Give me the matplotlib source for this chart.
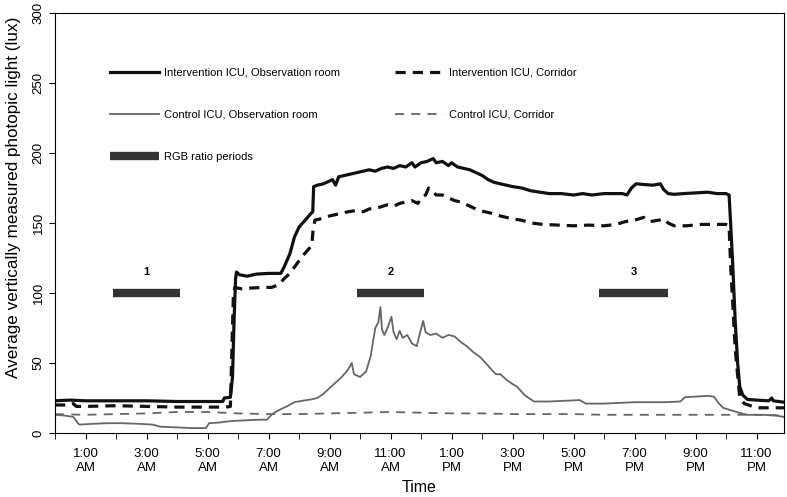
import matplotlib
matplotlib.use("Agg")
import matplotlib.pyplot as plt

plt.rcParams['font.family'] = ['Liberation Sans', 'DejaVu Sans']

# hours after midnight, measured lux
int_obs_t = [0.0, 0.5, 1.0, 2.0, 3.0, 4.0, 5.0, 5.5, 5.55, 5.75, 5.82, 5.87, 5.92, 5.95,
             6.05, 6.3, 6.6, 7.0, 7.4, 7.5, 7.7, 7.85, 8.0, 8.2, 8.4, 8.45, 8.48, 8.6,
             8.8, 9.0, 9.1, 9.2, 9.3, 9.5, 9.7, 9.9, 10.1, 10.3, 10.5, 10.7, 10.9, 11.1,
             11.3, 11.5, 11.7, 11.8, 12.0, 12.2, 12.4, 12.5, 12.7, 12.9, 13.0, 13.2, 13.4,
             13.6, 13.8, 14.0, 14.2, 14.4, 14.6, 14.8, 15.0, 15.3, 15.6, 15.9, 16.2, 16.6,
             17.0, 17.3, 17.6, 18.0, 18.3, 18.6, 18.75, 18.9, 19.05, 19.3, 19.6, 19.85,
             19.95, 20.1, 20.3, 20.6, 21.0, 21.4, 21.7, 22.0, 22.1, 22.15, 22.22, 22.3,
             22.38, 22.45, 22.55, 22.7, 23.0, 23.4, 23.5, 23.55, 23.9]
int_obs_v = [23, 23.5, 23, 23, 23, 22.5, 22.5, 22.5, 25, 25.5, 40, 80, 110, 115,
             113, 112, 113.5, 114, 114, 118, 128, 140, 147, 152, 157, 158, 176, 177,
             178, 180, 181, 177, 183, 184, 185, 186, 187, 188, 187, 189, 190, 189,
             191, 190, 193, 190, 193, 194, 196, 193, 194, 191, 193, 190, 189,
             188, 186, 184, 181, 179, 178, 177, 176, 175, 173, 172, 171, 171,
             170, 171, 170, 171, 171, 171, 170, 175, 178, 177.5, 177, 178,
             174, 171, 170.5, 171, 171.5, 172, 171, 171, 170, 150, 120, 80,
             50, 33, 27, 24, 23.5, 23, 25, 23, 22]

int_cor_t = [0.0, 0.5, 0.6, 0.7, 1.0, 2.0, 3.0, 4.0, 5.0, 5.6, 5.75, 5.8, 5.85, 5.9,
             6.1, 6.4, 6.8, 7.1, 7.35, 7.5, 7.7, 7.9, 8.1, 8.3, 8.42, 8.46, 8.52, 8.7,
             9.0, 9.3, 9.6, 9.9, 10.1, 10.3, 10.6, 10.9, 11.1, 11.3, 11.5, 11.7, 11.9,
             12.0, 12.15, 12.25, 12.35, 12.5, 12.7, 12.9, 13.1, 13.3, 13.5, 13.7, 13.9,
             14.1, 14.3, 14.6, 15.0, 15.3, 15.6, 16.0, 16.5, 17.0, 17.5, 18.0, 18.4,
             18.7, 19.0, 19.3, 19.5, 19.8, 19.95, 20.1, 20.3, 20.7, 21.2, 21.6, 22.0,
             22.1, 22.15, 22.3, 22.45, 22.6, 23.0, 23.9]
int_cor_v = [20, 20, 21, 19, 19, 19.5, 19, 18.5, 18.5, 18.5, 19, 60, 100, 104,
             103, 103.5, 104, 104, 106, 110, 114, 120, 126, 131, 134, 145, 152, 153,
             155, 156.5, 158, 159, 158, 160, 161, 163, 162, 164, 165, 166, 164,
             168, 170, 175, 173, 170, 170, 168, 166, 165, 163, 161, 159,
             158, 157, 155, 153, 152, 150, 149, 148.5, 148, 148.5, 148, 149,
             151, 152, 154, 151, 152, 153, 150, 148, 148, 149, 149, 149,
             148, 120, 60, 25, 21, 18, 18]

ctl_obs_t = [0.0, 0.3, 0.6, 0.75, 0.8, 1.2, 1.7, 2.2, 2.8, 3.2, 3.45, 4.0, 4.5, 4.95,
             5.05, 5.4, 5.75, 6.2, 6.7, 6.95, 7.05, 7.15, 7.4, 7.6, 7.85, 8.1, 8.4, 8.6,
             8.8, 9.0, 9.2, 9.4, 9.6, 9.73, 9.8, 10.0, 10.2, 10.35, 10.5, 10.6, 10.67,
             10.72, 10.8, 10.9, 11.03, 11.1, 11.2, 11.3, 11.4, 11.55, 11.7, 11.86, 11.95,
             12.07, 12.15, 12.3, 12.5, 12.7, 12.9, 13.1, 13.3, 13.5, 13.7, 13.95, 14.2,
             14.45, 14.6, 14.8, 15.0, 15.15, 15.4, 15.7, 16.2, 16.7, 17.2, 17.4, 18.0,
             18.5, 19.0, 19.5, 20.0, 20.5, 20.65, 21.0, 21.4, 21.6, 21.75, 21.9, 22.2,
             22.5, 22.7, 23.2, 23.6, 23.9]
ctl_obs_v = [13, 12.5, 11.5, 7, 6, 6.5, 7, 7, 6.5, 6, 4.5, 4, 3.5, 3.5,
             7, 7.5, 8.5, 9, 9.5, 9.5, 12, 14, 17, 19, 22, 23, 24, 25,
             28, 32, 36, 40, 45, 50, 42, 40, 44, 55, 75, 79, 90,
             74, 70, 75, 83, 72, 67, 73, 68, 70, 64, 62, 70,
             80, 72, 70, 71, 68, 70, 69, 65, 62, 58, 54, 48,
             42, 42, 38, 35, 33, 27, 22.5, 22.5, 23, 23.5, 21, 21,
             21.5, 22, 22, 22, 22.5, 25.5, 26, 26.5, 26, 21.5, 18, 16,
             14, 13, 13, 12.5, 11.5]

ctl_cor_t = [0.0, 1.0, 2.0, 3.0, 4.0, 5.0, 6.0, 7.0, 8.0, 9.0, 10.0, 11.0, 12.0,
             13.0, 14.0, 15.0, 16.0, 17.0, 18.0, 19.0, 20.0, 21.0, 22.0, 23.0, 23.9]
ctl_cor_v = [13.5, 13, 13.5, 14, 15, 15, 14, 13.5, 13.5, 14, 14.5, 15, 14.5,
             14, 14, 13.5, 13.5, 13.5, 13, 13, 13, 13, 13, 13, 12.5]

rgb_start = [1.9, 9.9, 17.85]
rgb_end = [4.1, 12.1, 20.1]
rgb_level = 100
rgb_names = ["1", "2", "3"]

hour_labels = ["1:00\nAM", "3:00\nAM", "5:00\nAM", "7:00\nAM", "9:00\nAM", "11:00\nAM",
               "1:00\nPM", "3:00\nPM", "5:00\nPM", "7:00\nPM", "9:00\nPM", "11:00\nPM"]

fig = plt.figure(figsize=(7.87, 4.97), dpi=100)
ax = fig.add_axes([55 / 787, 64 / 497, 729 / 787, 420 / 497])

ax.plot(int_obs_t, int_obs_v, color="#111111", lw=2.3,
        label="Intervention ICU, Observation room")
ax.plot(ctl_obs_t, ctl_obs_v, color="#666666", lw=1.3,
        label="Control ICU, Observation room")
for i in range(len(rgb_start)):
    ax.plot([rgb_start[i], rgb_end[i]], [rgb_level, rgb_level], color="#333333",
            lw=6, solid_capstyle="butt",
            label="RGB ratio periods" if i == 0 else None)
    ax.text((rgb_start[i] + rgb_end[i]) / 2, rgb_level + 15, rgb_names[i],
            ha="center", va="center", fontsize=8, fontweight="bold")
ax.plot(int_cor_t, int_cor_v, color="#111111", lw=2.3, dashes=(3.2, 2.2),
        label="Intervention ICU, Corridor")
ax.plot(ctl_cor_t, ctl_cor_v, color="#666666", lw=1.3, dashes=(5, 4),
        label="Control ICU, Corridor")

ax.set_xlim(0, 23.9)
ax.set_ylim(0, 300)
ax.set_xticks(range(1, 24, 2))
ax.set_xticklabels(hour_labels, fontsize=9.5)
ax.set_xticks(range(0, 24, 2), minor=True)
ax.tick_params(axis="x", which="both", direction="out", length=4, pad=7)
ax.set_yticks(range(0, 301, 50))
ax.set_yticklabels([str(v) for v in range(0, 301, 50)], rotation=90, va="center",
                   fontsize=9.5)
ax.tick_params(axis="y", direction="out", length=4)

ax.set_xlabel("Time", fontsize=11.5)
ax.set_ylabel("Average vertically measured photopic light (lux)", fontsize=12.3)
ax.yaxis.set_label_coords(-0.047, 0.56)
ax.xaxis.set_label_coords(0.5, -0.112)

ax.legend(loc="upper left", bbox_to_anchor=(0.075, 0.87), ncol=2, frameon=False,
          fontsize=8, handlelength=4.4, handletextpad=0.45, labelspacing=2.9,
          columnspacing=5.0, borderpad=0, borderaxespad=0)

fig.savefig("out.png", dpi=100)
